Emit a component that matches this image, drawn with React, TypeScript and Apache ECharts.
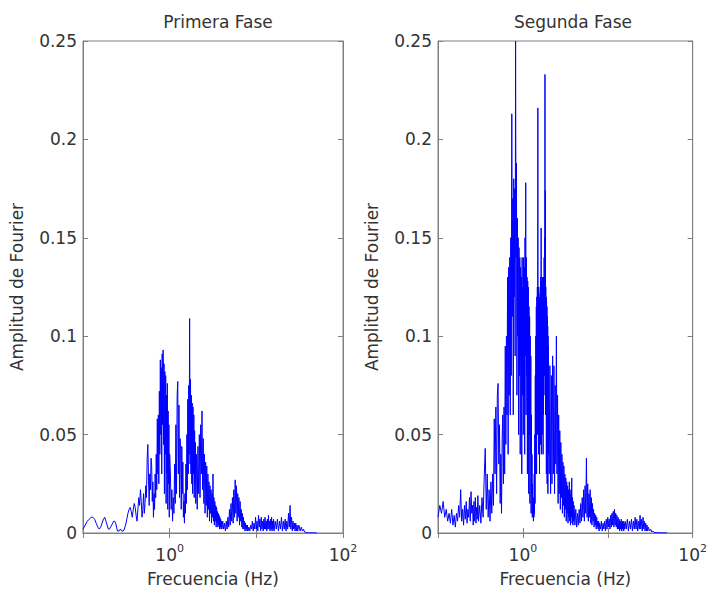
import React, { useEffect, useRef } from 'react';
import * as echarts from 'echarts';

const panelTitles = ['Primera Fase', 'Segunda Fase'];
const xAxisName = 'Frecuencia (Hz)';
const yAxisName = 'Amplitud de Fourier';
const xLabelExponents = [0, 2];

// [frequency (Hz), Fourier amplitude]
const primeraFase: [number, number][] = [
  [0.100, 0.002], [0.106, 0.004], [0.112, 0.006], [0.118, 0.007], [0.124, 0.008], [0.130, 0.008],
  [0.136, 0.007], [0.142, 0.005], [0.148, 0.003], [0.154, 0.002], [0.160, 0.003], [0.166, 0.005],
  [0.172, 0.007], [0.178, 0.008], [0.184, 0.006], [0.190, 0.004], [0.196, 0.002], [0.202, 0.002],
  [0.208, 0.003], [0.214, 0.004], [0.220, 0.005], [0.226, 0.006], [0.232, 0.006], [0.238, 0.005],
  [0.244, 0.003], [0.250, 0.001], [0.260, 0.001], [0.270, 0.002], [0.280, 0.001], [0.290, 0.001],
  [0.300, 0.002],
  [0.31, 0.004], [0.32, 0.007], [0.33, 0.010], [0.34, 0.012], [0.35, 0.013], [0.36, 0.011],
  [0.37, 0.008], [0.38, 0.012], [0.39, 0.015], [0.40, 0.013], [0.41, 0.009], [0.42, 0.006],
  [0.43, 0.012], [0.44, 0.018], [0.45, 0.014], [0.46, 0.022], [0.47, 0.016], [0.48, 0.008],
  [0.49, 0.012], [0.50, 0.020], [0.51, 0.010], [0.52, 0.015], [0.53, 0.024], [0.54, 0.018],
  [0.55, 0.038], [0.56, 0.045], [0.57, 0.028], [0.58, 0.014], [0.59, 0.030], [0.60, 0.022],
  [0.61, 0.038], [0.62, 0.034], [0.63, 0.016], [0.64, 0.026], [0.65, 0.008], [0.66, 0.020],
  [0.67, 0.012], [0.68, 0.030], [0.69, 0.018], [0.70, 0.040],
  [0.71, 0.022], [0.72, 0.058], [0.73, 0.030], [0.74, 0.060], [0.75, 0.025], [0.76, 0.072],
  [0.77, 0.040], [0.78, 0.088], [0.79, 0.050], [0.80, 0.084], [0.81, 0.030], [0.82, 0.091],
  [0.83, 0.055], [0.84, 0.093], [0.85, 0.045], [0.86, 0.086], [0.87, 0.020], [0.88, 0.082],
  [0.89, 0.040], [0.90, 0.080], [0.91, 0.015], [0.92, 0.070], [0.93, 0.030], [0.94, 0.076],
  [0.95, 0.012], [0.96, 0.062], [0.97, 0.025], [0.98, 0.055], [0.99, 0.008], [1.00, 0.040],
  [1.02, 0.030], [1.04, 0.012], [1.06, 0.022], [1.08, 0.006], [1.10, 0.018], [1.12, 0.010],
  [1.14, 0.035], [1.16, 0.015], [1.18, 0.055], [1.20, 0.020], [1.22, 0.070], [1.24, 0.077],
  [1.26, 0.030], [1.28, 0.065], [1.30, 0.018], [1.32, 0.048], [1.34, 0.042], [1.36, 0.012],
  [1.38, 0.044], [1.40, 0.020], [1.42, 0.036], [1.44, 0.008], [1.46, 0.016], [1.48, 0.005],
  [1.50, 0.020], [1.52, 0.010], [1.54, 0.035], [1.56, 0.015], [1.58, 0.050], [1.60, 0.022],
  [1.62, 0.068], [1.64, 0.030], [1.66, 0.075], [1.68, 0.040], [1.70, 0.109], [1.72, 0.035],
  [1.74, 0.078], [1.76, 0.030], [1.78, 0.070], [1.80, 0.025], [1.82, 0.066], [1.84, 0.020],
  [1.86, 0.064], [1.88, 0.030], [1.90, 0.060], [1.92, 0.018], [1.94, 0.052], [1.96, 0.025],
  [1.98, 0.046], [2.00, 0.015],
  [2.04, 0.040], [2.08, 0.012], [2.12, 0.044], [2.16, 0.020], [2.20, 0.050], [2.24, 0.018],
  [2.28, 0.055], [2.32, 0.030], [2.36, 0.062], [2.40, 0.022], [2.44, 0.048], [2.48, 0.015],
  [2.52, 0.040], [2.56, 0.010], [2.60, 0.036], [2.64, 0.014], [2.68, 0.034], [2.72, 0.008],
  [2.76, 0.030], [2.80, 0.012], [2.84, 0.026], [2.88, 0.006], [2.92, 0.024], [2.96, 0.010],
  [3.00, 0.022], [3.04, 0.005], [3.08, 0.020], [3.12, 0.008], [3.16, 0.030], [3.20, 0.006],
  [3.24, 0.018], [3.28, 0.004], [3.32, 0.016], [3.36, 0.006], [3.40, 0.014], [3.44, 0.003],
  [3.48, 0.013], [3.52, 0.005], [3.56, 0.011], [3.60, 0.003], [3.64, 0.010], [3.68, 0.004],
  [3.72, 0.009], [3.76, 0.002], [3.80, 0.008], [3.84, 0.003], [3.88, 0.007], [3.92, 0.002],
  [3.96, 0.006], [4.00, 0.002],
  [4.1, 0.006], [4.2, 0.002], [4.3, 0.005], [4.4, 0.001], [4.5, 0.006], [4.6, 0.002],
  [4.7, 0.008], [4.8, 0.003], [4.9, 0.012], [5.0, 0.004], [5.1, 0.015], [5.2, 0.006],
  [5.3, 0.018], [5.4, 0.005], [5.5, 0.022], [5.6, 0.008], [5.7, 0.027], [5.8, 0.010],
  [5.9, 0.024], [6.0, 0.006], [6.1, 0.020], [6.2, 0.008], [6.3, 0.018], [6.4, 0.004],
  [6.5, 0.016], [6.6, 0.006], [6.7, 0.012], [6.8, 0.003], [6.9, 0.010], [7.0, 0.002],
  [7.1, 0.008], [7.2, 0.002], [7.3, 0.006], [7.4, 0.001], [7.5, 0.005], [7.6, 0.002],
  [7.7, 0.004], [7.8, 0.001], [7.9, 0.004], [8.0, 0.001],
  [8.2, 0.003], [8.4, 0.001], [8.6, 0.004], [8.8, 0.002], [9.0, 0.006], [9.2, 0.001],
  [9.4, 0.005], [9.6, 0.002], [9.8, 0.008], [10.0, 0.002], [10.2, 0.006], [10.4, 0.001],
  [10.6, 0.009], [10.8, 0.003], [11.0, 0.007], [11.2, 0.001], [11.4, 0.008], [11.6, 0.002],
  [11.8, 0.006], [12.0, 0.001], [12.2, 0.007], [12.4, 0.002], [12.6, 0.008], [12.8, 0.002],
  [13.0, 0.006], [13.2, 0.001], [13.4, 0.007], [13.6, 0.002], [13.8, 0.009], [14.0, 0.002],
  [14.2, 0.006], [14.4, 0.001], [14.6, 0.007], [14.8, 0.002], [15.0, 0.008], [15.2, 0.001],
  [15.4, 0.006], [15.6, 0.002], [15.8, 0.007], [16.0, 0.001],
  [16.5, 0.006], [17.0, 0.002], [17.5, 0.007], [18.0, 0.001], [18.5, 0.006], [19.0, 0.002],
  [19.5, 0.008], [20.0, 0.001], [20.5, 0.006], [21.0, 0.002], [21.5, 0.007], [22.0, 0.001],
  [22.5, 0.006], [23.0, 0.002], [23.5, 0.010], [24.0, 0.003], [24.5, 0.014], [25.0, 0.002],
  [25.5, 0.008], [26.0, 0.001], [26.5, 0.006], [27.0, 0.002], [27.5, 0.005], [28.0, 0.001],
  [28.5, 0.005], [29.0, 0.001], [29.5, 0.004], [30.0, 0.001], [31.0, 0.004], [32.0, 0.001],
  [33.0, 0.003], [34.0, 0.001], [35.0, 0.002], [36.0, 0.0005], [38.0, 0.0002], [40.0, 0.0001],
  [45.0, 0.0001], [50.0, 0.0],
];

const segundaFase: [number, number][] = [
  [0.100, 0.008], [0.105, 0.014], [0.110, 0.010], [0.115, 0.016], [0.120, 0.008], [0.125, 0.012],
  [0.130, 0.006], [0.135, 0.010], [0.140, 0.005], [0.145, 0.012], [0.150, 0.004], [0.155, 0.009],
  [0.160, 0.003], [0.165, 0.010], [0.170, 0.006], [0.175, 0.014], [0.180, 0.008], [0.185, 0.022],
  [0.190, 0.006], [0.195, 0.012], [0.200, 0.004], [0.205, 0.014], [0.210, 0.007], [0.215, 0.016],
  [0.220, 0.005], [0.225, 0.012], [0.230, 0.008], [0.235, 0.018], [0.240, 0.006], [0.245, 0.021],
  [0.250, 0.010], [0.255, 0.014], [0.260, 0.004], [0.265, 0.016], [0.270, 0.006], [0.275, 0.018],
  [0.280, 0.005], [0.285, 0.013], [0.290, 0.007], [0.295, 0.019], [0.300, 0.006],
  [0.31, 0.014], [0.32, 0.005], [0.33, 0.018], [0.34, 0.008], [0.35, 0.028], [0.36, 0.043],
  [0.37, 0.012], [0.38, 0.030], [0.39, 0.008], [0.40, 0.022], [0.41, 0.006], [0.42, 0.026],
  [0.43, 0.010], [0.44, 0.030], [0.45, 0.014], [0.46, 0.058], [0.47, 0.030], [0.48, 0.064],
  [0.49, 0.020], [0.50, 0.070], [0.51, 0.076], [0.52, 0.035], [0.53, 0.055], [0.54, 0.015],
  [0.55, 0.040], [0.56, 0.010], [0.57, 0.048], [0.58, 0.060], [0.59, 0.025], [0.60, 0.064],
  [0.61, 0.030], [0.62, 0.095], [0.63, 0.045], [0.64, 0.100], [0.65, 0.060], [0.66, 0.130],
  [0.67, 0.040], [0.68, 0.135], [0.69, 0.070], [0.70, 0.140],
  [0.71, 0.060], [0.72, 0.150], [0.73, 0.080], [0.74, 0.213], [0.75, 0.110], [0.76, 0.170],
  [0.77, 0.060], [0.78, 0.180], [0.79, 0.120], [0.80, 0.175], [0.81, 0.090], [0.82, 0.250],
  [0.83, 0.140], [0.84, 0.188], [0.85, 0.070], [0.86, 0.160], [0.87, 0.100], [0.88, 0.150],
  [0.89, 0.050], [0.90, 0.145], [0.91, 0.080], [0.92, 0.140], [0.93, 0.040], [0.94, 0.135],
  [0.95, 0.090], [0.96, 0.130], [0.97, 0.030], [0.98, 0.140], [0.99, 0.070], [1.00, 0.125],
  [1.01, 0.050], [1.02, 0.140], [1.03, 0.070], [1.04, 0.135], [1.05, 0.040], [1.06, 0.150],
  [1.07, 0.090], [1.08, 0.178], [1.09, 0.060], [1.10, 0.140], [1.11, 0.080], [1.12, 0.130],
  [1.13, 0.030], [1.14, 0.128], [1.15, 0.060], [1.16, 0.125], [1.17, 0.020], [1.18, 0.115],
  [1.19, 0.050], [1.20, 0.110], [1.21, 0.015], [1.22, 0.100], [1.23, 0.040], [1.24, 0.090],
  [1.25, 0.010], [1.26, 0.060], [1.27, 0.020], [1.28, 0.040], [1.29, 0.008], [1.30, 0.025],
  [1.31, 0.010], [1.32, 0.018], [1.33, 0.006], [1.34, 0.015], [1.35, 0.008], [1.36, 0.030],
  [1.37, 0.010], [1.38, 0.050], [1.39, 0.015], [1.40, 0.080], [1.41, 0.030], [1.42, 0.100],
  [1.43, 0.040], [1.44, 0.115], [1.45, 0.030], [1.46, 0.120], [1.47, 0.060], [1.48, 0.125],
  [1.49, 0.050], [1.50, 0.216], [1.51, 0.070], [1.52, 0.125], [1.53, 0.040], [1.54, 0.122],
  [1.55, 0.060], [1.56, 0.120], [1.57, 0.030], [1.58, 0.118], [1.59, 0.070], [1.60, 0.125],
  [1.61, 0.045], [1.62, 0.130], [1.63, 0.060], [1.64, 0.155], [1.65, 0.040], [1.66, 0.128],
  [1.67, 0.080], [1.68, 0.125], [1.69, 0.050], [1.70, 0.130], [1.71, 0.070], [1.72, 0.120],
  [1.73, 0.040], [1.74, 0.125], [1.75, 0.060], [1.76, 0.130], [1.77, 0.070], [1.78, 0.140],
  [1.79, 0.080], [1.80, 0.150], [1.81, 0.090], [1.82, 0.233], [1.83, 0.080], [1.84, 0.174],
  [1.85, 0.060], [1.86, 0.125], [1.87, 0.070], [1.88, 0.120], [1.89, 0.030], [1.90, 0.118],
  [1.91, 0.060], [1.92, 0.115], [1.93, 0.025], [1.94, 0.110], [1.95, 0.050], [1.96, 0.105],
  [1.97, 0.020], [1.98, 0.100], [1.99, 0.040], [2.00, 0.095],
  [2.04, 0.030], [2.08, 0.085], [2.12, 0.020], [2.16, 0.080], [2.20, 0.025], [2.24, 0.090],
  [2.28, 0.030], [2.32, 0.085], [2.36, 0.020], [2.40, 0.075], [2.44, 0.035], [2.48, 0.100],
  [2.52, 0.030], [2.56, 0.070], [2.60, 0.015], [2.64, 0.060], [2.68, 0.020], [2.72, 0.052],
  [2.76, 0.012], [2.80, 0.046], [2.84, 0.018], [2.88, 0.040], [2.92, 0.010], [2.96, 0.036],
  [3.00, 0.014], [3.04, 0.034], [3.08, 0.008], [3.12, 0.030], [3.16, 0.012], [3.20, 0.028],
  [3.24, 0.006], [3.28, 0.026], [3.32, 0.010], [3.36, 0.024], [3.40, 0.005], [3.44, 0.022],
  [3.48, 0.008], [3.52, 0.026], [3.56, 0.006], [3.60, 0.020], [3.64, 0.004], [3.68, 0.022],
  [3.72, 0.008], [3.76, 0.028], [3.80, 0.005], [3.84, 0.018], [3.88, 0.004], [3.92, 0.016],
  [3.96, 0.006], [4.00, 0.014],
  [4.1, 0.004], [4.2, 0.012], [4.3, 0.003], [4.4, 0.010], [4.5, 0.004], [4.6, 0.012],
  [4.7, 0.005], [4.8, 0.015], [4.9, 0.006], [5.0, 0.018], [5.1, 0.008], [5.2, 0.022],
  [5.3, 0.006], [5.4, 0.024], [5.5, 0.010], [5.6, 0.038], [5.7, 0.008], [5.8, 0.025],
  [5.9, 0.006], [6.0, 0.020], [6.1, 0.008], [6.2, 0.022], [6.3, 0.005], [6.4, 0.018],
  [6.5, 0.004], [6.6, 0.015], [6.7, 0.006], [6.8, 0.012], [6.9, 0.003], [7.0, 0.010],
  [7.1, 0.004], [7.2, 0.009], [7.3, 0.002], [7.4, 0.008], [7.5, 0.003], [7.6, 0.006],
  [7.7, 0.002], [7.8, 0.006], [7.9, 0.001], [8.0, 0.005],
  [8.2, 0.002], [8.4, 0.006], [8.6, 0.001], [8.8, 0.005], [9.0, 0.002], [9.2, 0.006],
  [9.4, 0.001], [9.6, 0.007], [9.8, 0.002], [10.0, 0.008], [10.2, 0.003], [10.4, 0.007],
  [10.6, 0.002], [10.8, 0.009], [11.0, 0.003], [11.2, 0.010], [11.4, 0.004], [11.6, 0.011],
  [11.8, 0.003], [12.0, 0.012], [12.2, 0.004], [12.4, 0.010], [12.6, 0.003], [12.8, 0.009],
  [13.0, 0.002], [13.2, 0.008], [13.4, 0.002], [13.6, 0.007], [13.8, 0.001], [14.0, 0.006],
  [14.2, 0.002], [14.4, 0.007], [14.6, 0.001], [14.8, 0.006], [15.0, 0.002], [15.2, 0.006],
  [15.4, 0.001], [15.6, 0.005], [15.8, 0.002], [16.0, 0.006],
  [16.5, 0.002], [17.0, 0.007], [17.5, 0.001], [18.0, 0.006], [18.5, 0.002], [19.0, 0.007],
  [19.5, 0.001], [20.0, 0.006], [20.5, 0.002], [21.0, 0.008], [21.5, 0.002], [22.0, 0.007],
  [22.5, 0.001], [23.0, 0.006], [23.5, 0.002], [24.0, 0.009], [24.5, 0.002], [25.0, 0.007],
  [25.5, 0.001], [26.0, 0.008], [26.5, 0.002], [27.0, 0.006], [27.5, 0.001], [28.0, 0.005],
  [28.5, 0.001], [29.0, 0.004], [29.5, 0.001], [30.0, 0.003], [31.0, 0.001], [32.0, 0.002],
  [33.0, 0.0005], [34.0, 0.001], [35.0, 0.0003], [36.0, 0.0002], [40.0, 0.0001], [45.0, 0.0001],
  [50.0, 0.0],
];

const panelData = [primeraFase, segundaFase];

const FONT = 'DejaVu Sans';
const TEXT = '#333333';
const AXIS = '#808080';
const LINE = '#0000ff';
const gridLefts = [83, 438];
const gridTop = 41;
const gridW = 260;
const gridH = 492;

export default function App() {
  const ref = useRef<HTMLDivElement>(null);

  useEffect(() => {
    const chart = echarts.init(ref.current as HTMLDivElement, null, { renderer: 'svg' });

    const xFormatter = (v: number) => {
      const lg = Math.log10(v);
      const e = Math.round(lg);
      if (Math.abs(lg - e) < 1e-6 && xLabelExponents.includes(e)) return `{b|10}{s|${e}}`;
      return '';
    };

    const grids: any[] = [];
    const xAxes: any[] = [];
    const yAxes: any[] = [];
    const series: any[] = [];
    const titles: any[] = [];

    panelData.forEach((data, i) => {
      grids.push({
        left: gridLefts[i], top: gridTop, width: gridW, height: gridH,
        show: true, borderColor: AXIS, borderWidth: 1, backgroundColor: 'transparent',
      });
      titles.push({
        text: panelTitles[i],
        left: gridLefts[i] + gridW / 2,
        top: 8,
        textAlign: 'center',
        textStyle: { fontFamily: FONT, fontSize: 17, fontWeight: 'normal', color: TEXT },
      });
      xAxes.push({
        type: 'log', logBase: 10, gridIndex: i, min: 0.1, max: 100, position: 'bottom',
        name: xAxisName, nameLocation: 'middle', nameGap: 37,
        nameTextStyle: { fontFamily: FONT, fontSize: 17, color: TEXT },
        axisLine: { show: true, lineStyle: { color: AXIS, width: 1 } },
        axisTick: { show: true, inside: true, length: 5, lineStyle: { color: AXIS } },
        splitLine: { show: false },
        axisLabel: {
          show: true, margin: 10, showMinLabel: true, showMaxLabel: true,
          alignMinLabel: 'center', alignMaxLabel: 'center',
          formatter: xFormatter, color: TEXT,
          rich: {
            b: { fontFamily: FONT, fontSize: 17, color: TEXT, lineHeight: 24 },
            s: { fontFamily: FONT, fontSize: 11, color: TEXT, verticalAlign: 'top', lineHeight: 12 },
          },
        },
      });
      xAxes.push({
        type: 'log', logBase: 10, gridIndex: i, min: 0.1, max: 100, position: 'top',
        axisLine: { show: true, lineStyle: { color: AXIS, width: 1 } },
        axisTick: { show: true, inside: true, length: 5, lineStyle: { color: AXIS } },
        axisLabel: { show: false }, splitLine: { show: false },
      });
      yAxes.push({
        type: 'value', gridIndex: i, min: 0, max: 0.25, interval: 0.05, position: 'left',
        name: yAxisName, nameLocation: 'middle', nameGap: 58, nameRotate: 90,
        nameTextStyle: { fontFamily: FONT, fontSize: 17, color: TEXT },
        axisLine: { show: true, lineStyle: { color: AXIS, width: 1 } },
        axisTick: { show: true, inside: true, length: 5, lineStyle: { color: AXIS } },
        splitLine: { show: false },
        axisLabel: { fontFamily: FONT, fontSize: 17, color: TEXT, margin: 6 },
      });
      yAxes.push({
        type: 'value', gridIndex: i, min: 0, max: 0.25, interval: 0.05, position: 'right',
        axisLine: { show: true, lineStyle: { color: AXIS, width: 1 } },
        axisTick: { show: true, inside: true, length: 5, lineStyle: { color: AXIS } },
        axisLabel: { show: false }, splitLine: { show: false },
      });
      series.push({
        type: 'line', name: panelTitles[i], xAxisIndex: i * 2, yAxisIndex: i * 2,
        data, symbol: 'none', showSymbol: false, clip: true,
        lineStyle: { color: LINE, width: 1 }, itemStyle: { color: LINE },
      });
    });

    chart.setOption({
      animation: false,
      backgroundColor: '#ffffff',
      textStyle: { fontFamily: FONT },
      title: titles,
      grid: grids,
      xAxis: xAxes,
      yAxis: yAxes,
      series,
    });

    return () => chart.dispose();
  }, []);

  return (
    <div
      ref={ref}
      style={{ position: 'fixed', left: 0, top: 0, width: 710, height: 593, background: '#fff' }}
    />
  );
}
